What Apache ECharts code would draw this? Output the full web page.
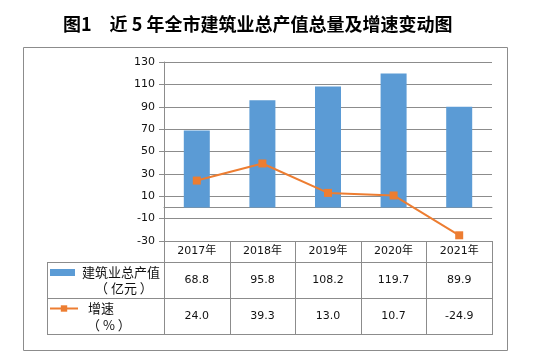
<!DOCTYPE html>
<html><head><meta charset="utf-8">
<script src="https://cdn.jsdelivr.net/npm/echarts@6/dist/echarts.min.js"></script>
<style>html,body{margin:0;padding:0;background:#fff}#c{width:546px;height:363px}</style>
</head><body><div id="c"></div>
<script>
const years = ['2017年','2018年','2019年','2020年','2021年'];
const output = [68.8, 95.8, 108.2, 119.7, 89.9];
const growth = [24.0, 39.3, 13.0, 10.7, -24.9];
const yTicks = {min: -30, max: 130, interval: 20};
const names = {bar: '建筑业总产值', barUnit: '（ 亿元 ）', line: '增速', lineUnit: '（ % ）'};

const L = {left: 164, right: 492, top: 62, bottom: 241, tableLeft: 47, r1: 262, r2: 298, r3: 334};
const gray = '#8c8c8c';
const font = '"DejaVu Sans","Noto Sans CJK SC",sans-serif';
const cjk = 'Noto Sans CJK SC';

const chart = echarts.init(document.getElementById('c'));
const colW = (L.right - L.left) / years.length;
const g = [];
// outer frame
g.push({type:'rect', shape:{x:23.5,y:47.5,width:484,height:303}, style:{fill:'none',stroke:gray,lineWidth:1}, z:0});
function hl(y,x1,x2){g.push({type:'line',shape:{x1:x1,y1:y,x2:x2,y2:y},style:{stroke:gray,lineWidth:1},z:5});}
function vl(x,y1,y2){g.push({type:'line',shape:{x1:x,y1:y1,x2:x,y2:y2},style:{stroke:gray,lineWidth:1},z:5});}
hl(L.r1+0.5, L.tableLeft, L.right);
hl(L.r2+0.5, L.tableLeft, L.right);
hl(L.r3+0.5, L.tableLeft, L.right);
vl(L.tableLeft+0.5, L.r1, L.r3+1);
for (let i=0;i<=years.length;i++){ vl(Math.round(L.left+i*colW)+0.5, L.bottom, L.r3+1); }
g.push({type:'text', x:95, y:288, style:{text:names.barUnit, fontSize:13, fontFamily:cjk, fill:'#111', align:'left', verticalAlign:'middle'}});
g.push({type:'text', x:87, y:325, style:{text:names.lineUnit, fontSize:13, fontFamily:cjk, fill:'#111', align:'left', verticalAlign:'middle'}});

const rowAxis = (margin, fmt) => ({
  type:'category', data: years, gridIndex:0, position:'bottom',
  axisLine:{show:false, onZero:false}, axisTick:{show:false}, splitLine:{show:false},
  axisLabel:{margin: margin, verticalAlign:'middle', fontSize:11, fontFamily:font, color:'#111', formatter: fmt, interval:0}
});

chart.setOption({
  animation:false,
  title:{text:'图1\u3000近 5 年全市建筑业总产值总量及增速变动图', left:58, top:10,
    textStyle:{fontSize:18, fontWeight:'bold', fontFamily:cjk, color:'#000'}},
  grid:{left:L.left, right:546-L.right, top:L.top, bottom:363-L.bottom, containLabel:false},
  legend:[
    {data:[{name:names.bar, icon:'rect'}], left:50, top:266, padding:0, itemWidth:25, itemHeight:7, itemGap:0,
      textStyle:{fontSize:13, fontFamily:cjk, color:'#111', padding:[0,0,0,2]}},
    {data:[names.line], left:49, top:302, padding:0, itemWidth:28, itemHeight:8, itemGap:0,
      textStyle:{fontSize:13, fontFamily:cjk, color:'#111', padding:[0,0,0,5]}}
  ],
  xAxis:[
    {type:'category', data:years, axisLine:{show:true, onZero:true, lineStyle:{color:gray}}, axisTick:{show:false}, axisLabel:{show:false}},
    rowAxis(10.5, v => v),
    rowAxis(39.5, (v,i) => output[i].toFixed(1)),
    rowAxis(75, (v,i) => growth[i].toFixed(1))
  ],
  yAxis:{type:'value', min:yTicks.min, max:yTicks.max, interval:yTicks.interval,
    axisLine:{show:true, lineStyle:{color:gray}}, axisTick:{show:true, length:5, lineStyle:{color:gray}},
    axisLabel:{margin:9, fontSize:11, fontFamily:font, color:'#111'},
    splitLine:{lineStyle:{color:gray, width:1}}},
  series:[
    {name:names.bar, type:'bar', data:output, barWidth:26, itemStyle:{color:'#5B9BD5'}, z:2},
    {name:names.line, type:'line', data:growth, symbol:'rect', symbolSize:8,
      lineStyle:{color:'#ED7D31', width:2}, itemStyle:{color:'#ED7D31'}, z:3}
  ],
  graphic:g
});
</script></body></html>
